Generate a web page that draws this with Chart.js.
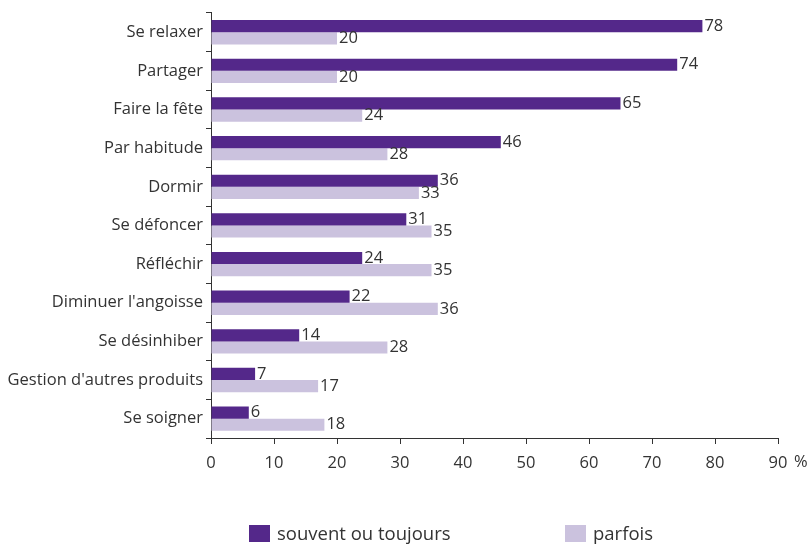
<!DOCTYPE html>
<html>
<head>
<meta charset="utf-8">
<script src="https://cdn.jsdelivr.net/npm/chart.js@4"></script>
<style>
  body { margin: 0; background: #fff; font-family: "Open Sans", sans-serif; color: #333; }
  #wrap { position: relative; width: 812px; height: 544px; }
  .leg { position: absolute; top: 522px; font-size: 18.5px; line-height: 22px; display: flex; align-items: center; }
  .leg span.box { display: inline-block; width: 21px; height: 17px; margin-right: 7px; }
</style>
</head>
<body>
<div id="wrap">
  <canvas id="chart" width="812" height="544"></canvas>
  <div class="leg" style="left:249px"><span class="box" style="background:#54288a"></span>souvent ou toujours</div>
  <div class="leg" style="left:565px"><span class="box" style="background:#cbc2de"></span>parfois</div>
</div>
<script>
const categories = [
  "Se relaxer", "Partager", "Faire la fête", "Par habitude", "Dormir",
  "Se défoncer", "Réfléchir", "Diminuer l'angoisse", "Se désinhiber",
  "Gestion d'autres produits", "Se soigner"
];
const souvent = [78, 74, 65, 46, 36, 31, 24, 22, 14, 7, 6];
const parfois = [20, 20, 24, 28, 33, 35, 35, 36, 28, 17, 18];
const xTicks = [0, 10, 20, 30, 40, 50, 60, 70, 80, 90];

const textColor = "#333";
const fontFamily = "'Open Sans', sans-serif";
const fontSize = 16.5;

// value labels at the end of each bar
const valueLabels = {
  id: "valueLabels",
  afterDatasetsDraw(chart) {
    const ctx = chart.ctx;
    ctx.save();
    ctx.font = fontSize + "px " + fontFamily;
    ctx.fillStyle = textColor;
    ctx.textAlign = "left";
    ctx.textBaseline = "middle";
    chart.data.datasets.forEach((ds, i) => {
      chart.getDatasetMeta(i).data.forEach((bar, j) => {
        ctx.fillText(ds.data[j], bar.x + 2, bar.y);
      });
    });
    ctx.restore();
  }
};

// "%" after the last x tick
const percentSign = {
  id: "percentSign",
  afterDraw(chart) {
    const x = chart.scales.x;
    const ctx = chart.ctx;
    ctx.save();
    ctx.font = fontSize + "px " + fontFamily;
    ctx.fillStyle = textColor;
    ctx.textBaseline = "middle";
    ctx.fillText("%", x.getPixelForValue(90) + 16, x.top + 24);
    ctx.restore();
  }
};

new Chart(document.getElementById("chart").getContext("2d"), {
  type: "bar",
  data: {
    labels: categories,
    datasets: [
      { label: "souvent ou toujours", data: souvent, backgroundColor: "#54288a" },
      { label: "parfois", data: parfois, backgroundColor: "#cbc2de" }
    ]
  },
  options: {
    indexAxis: "y",
    responsive: false,
    animation: false,
    layout: { padding: { top: 7, right: 34, left: 0, bottom: 0 } },
    datasets: { bar: { barPercentage: 1, categoryPercentage: 0.63 } },
    plugins: { legend: { display: false }, tooltip: { enabled: false } },
    scales: {
      x: {
        min: 0,
        max: 90,
        afterBuildTicks: s => { s.ticks = xTicks.map(v => ({ value: v })); },
        afterFit: s => { s.height = 106; },
        grid: { drawOnChartArea: false, tickLength: 6, color: textColor },
        border: { color: textColor },
        ticks: { color: textColor, font: { size: fontSize, family: fontFamily }, padding: 9, maxRotation: 0 }
      },
      y: {
        afterFit: s => { s.width = 211; },
        grid: { drawOnChartArea: false, offset: true, tickLength: 5, color: textColor },
        border: { color: textColor },
        ticks: { color: textColor, font: { size: fontSize, family: fontFamily }, padding: 3 }
      }
    }
  },
  plugins: [valueLabels, percentSign]
});
</script>
</body>
</html>
